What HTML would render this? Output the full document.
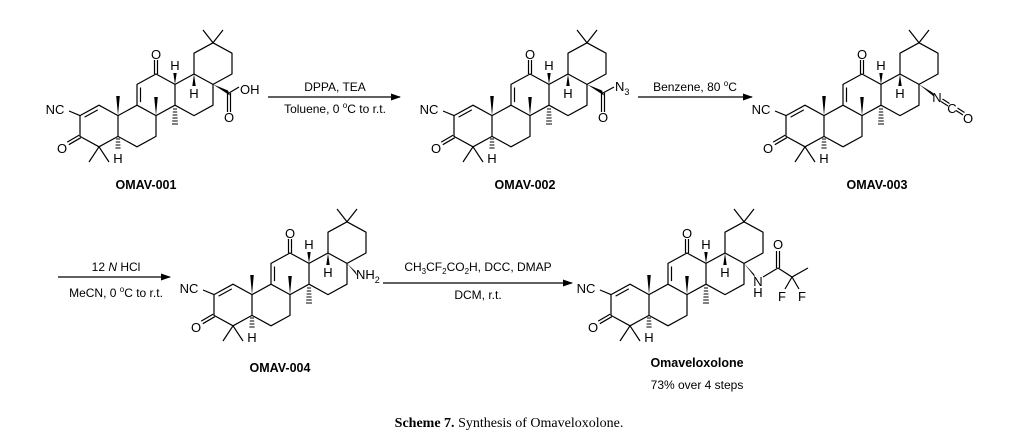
<!DOCTYPE html>
<html><head><meta charset="utf-8"><style>
html,body{margin:0;padding:0;background:#fff;}
svg{display:block;}
text{font-family:"Liberation Sans",sans-serif;fill:#000;}
.a{font-size:13px;text-anchor:middle;}
.r{font-size:12px;text-anchor:middle;}
.lb{font-size:12.5px;font-weight:bold;text-anchor:middle;}
</style></head><body>
<svg width="1024" height="440" viewBox="0 0 1024 440" xmlns="http://www.w3.org/2000/svg">
<defs>
<marker id="ar" markerWidth="10" markerHeight="8" refX="9" refY="4" orient="auto" markerUnits="userSpaceOnUse"><path d="M0,0.5 L10,4 L0,7.5 Z" fill="#000"/></marker>
<g id="sk" fill="none" stroke="#000" stroke-width="1.2" stroke-linejoin="round">
<path d="M0,-20.8 L19,-10.4 L19,10.4 L0,20.8 L-19,10.4 L-19,-10.4Z"/>
<path d="M19,-10.4 L38,-20.8 L57,-10.4 L57,10.4 L38,20.8 L19,10.4"/>
<path d="M38,-20.8 L38,-41.6 L57,-52 L76,-41.6 L76,-20.8 L57,-10.4"/>
<path d="M76,-41.6 L95,-52 L114,-41.6 L114,-20.8 L95,-10.4 L76,-20.8"/>
<path d="M95,-52 L95,-72.8 L114,-83.2 L133,-72.8 L133,-52 L114,-41.6"/>
<path d="M-14.4,-8.9 L-1.2,-16.1"/>
<path d="M41.5,-38.5 L41.5,-23.9"/>
<path d="M55.5,-52 L55.5,-66 M58.5,-52 L58.5,-66"/>
<path d="M-19.8,9.1 L-31.8,16.1 M-18.2,11.7 L-30.2,18.7"/>
<path d="M-19,-10.4 L-30,-15"/>
<path d="M0,20.8 L-10,36 M0,20.8 L10,36"/>
<path d="M114,-83.2 L104,-96 M114,-83.2 L124,-96"/>
<path d="M17,13 L21,13 M16.8,16 L21.2,16 M16.6,19 L21.4,19 M16.4,22 L21.6,22" stroke-width="1"/>
<path d="M74,-17 L78,-17 M73.8,-14 L78.2,-14 M73.6,-11 L78.4,-11 M73.4,-8 L78.6,-8 M73.2,-5 L78.8,-5 M73,-2 L79,-2" stroke-width="1"/>
</g>
<g id="wd" fill="#000" stroke="none">
<polygon points="19,-10.4 17.2,-30 20.8,-30"/>
<polygon points="57,-10.4 55.2,-29 58.8,-29"/>
<polygon points="76,-41.6 74.3,-53 77.7,-53"/>
<polygon points="95,-52 93.3,-40 96.7,-40"/>
</g>
</defs>

<!-- Molecule 1 -->
<g transform="translate(99,126)">
<use href="#sk"/><use href="#wd"/>
<text class="a" x="-44" y="-12">NC</text>
<text class="a" x="-37" y="27">O</text>
<text class="a" x="19" y="37">H</text>
<text class="a" x="57" y="-67">O</text>
<text class="a" x="76" y="-56">H</text>
<text class="a" x="95" y="-28">H</text>
<polygon points="114,-41.6 129,-35.5 131,-30.5" fill="#000"/>
<path d="M130,-33 L140,-39 M128.5,-33 L128.5,-14 M131.5,-33 L131.5,-14" stroke="#000" stroke-width="1.2" fill="none"/>
<text class="a" x="130" y="-4">O</text>
<text x="141" y="-32" font-size="13">OH</text>
</g>

<!-- Arrow 1 -->
<line x1="268" y1="97" x2="400" y2="97" stroke="#000" stroke-width="1.2" marker-end="url(#ar)"/>
<text class="r" x="335" y="91">DPPA, TEA</text>
<text class="r" x="335" y="113">Toluene, 0 <tspan font-size="8" dy="-5">o</tspan><tspan dy="5">C to r.t.</tspan></text>

<!-- Molecule 2 -->
<g transform="translate(473,126)">
<use href="#sk"/><use href="#wd"/>
<text class="a" x="-44" y="-12">NC</text>
<text class="a" x="-37" y="27">O</text>
<text class="a" x="19" y="37">H</text>
<text class="a" x="57" y="-67">O</text>
<text class="a" x="76" y="-56">H</text>
<text class="a" x="95" y="-28">H</text>
<polygon points="114,-41.6 129,-35.5 131,-30.5" fill="#000"/>
<path d="M130,-33 L141,-39 M128.5,-33 L128.5,-14 M131.5,-33 L131.5,-14" stroke="#000" stroke-width="1.2" fill="none"/>
<text class="a" x="130" y="-4">O</text>
<text x="142" y="-35" font-size="13">N<tspan font-size="9" dy="4">3</tspan></text>
</g>

<!-- Arrow 2 -->
<line x1="638" y1="97" x2="752" y2="97" stroke="#000" stroke-width="1.2" marker-end="url(#ar)"/>
<text class="r" x="695" y="91">Benzene, 80 <tspan font-size="8" dy="-5">o</tspan><tspan dy="5">C</tspan></text>

<!-- Molecule 3 -->
<g transform="translate(805,126)">
<use href="#sk"/><use href="#wd"/>
<text class="a" x="-44" y="-12">NC</text>
<text class="a" x="-37" y="27">O</text>
<text class="a" x="19" y="37">H</text>
<text class="a" x="57" y="-67">O</text>
<text class="a" x="76" y="-56">H</text>
<text class="a" x="95" y="-28">H</text>
<polygon points="114,-41.6 127.5,-33.5 129.5,-29" fill="#000"/>
<text class="a" x="132" y="-24">N</text>
<path d="M136,-24.5 L143,-20 M137.5,-27 L144.5,-22.5 M151,-15.5 L158,-11 M152.5,-18 L159.5,-13.5" stroke="#000" stroke-width="1.1" fill="none"/>
<text class="a" x="147" y="-13">C</text>
<text class="a" x="163" y="-3">O</text>
</g>

<text class="lb" x="146" y="189">OMAV-001</text>
<text class="lb" x="525" y="189">OMAV-002</text>
<text class="lb" x="877" y="189">OMAV-003</text>

<!-- Arrow 3 -->
<line x1="58" y1="277" x2="170" y2="277" stroke="#000" stroke-width="1.2" marker-end="url(#ar)"/>
<text class="r" x="116" y="271">12 <tspan font-style="italic">N</tspan> HCl</text>
<text class="r" x="116" y="297">MeCN, 0 <tspan font-size="8" dy="-5">o</tspan><tspan dy="5">C to r.t.</tspan></text>

<!-- Molecule 4 -->
<g transform="translate(233,305)">
<use href="#sk"/><use href="#wd"/>
<text class="a" x="-44" y="-12">NC</text>
<text class="a" x="-37" y="27">O</text>
<text class="a" x="19" y="37">H</text>
<text class="a" x="57" y="-67">O</text>
<text class="a" x="76" y="-56">H</text>
<text class="a" x="95" y="-28">H</text>
<polygon points="114,-41.6 122.5,-33.5 124.5,-29" fill="#000"/>
<text x="123" y="-26" font-size="13">NH<tspan font-size="9" dy="4">2</tspan></text>
</g>
<text class="lb" x="280" y="372">OMAV-004</text>

<!-- Arrow 4 -->
<line x1="383" y1="283" x2="572" y2="283" stroke="#000" stroke-width="1.2" marker-end="url(#ar)"/>
<text class="r" x="478" y="271">CH<tspan font-size="8" dy="3">3</tspan><tspan dy="-3">CF</tspan><tspan font-size="8" dy="3">2</tspan><tspan dy="-3">CO</tspan><tspan font-size="8" dy="3">2</tspan><tspan dy="-3">H, DCC, DMAP</tspan></text>
<text class="r" x="478" y="299">DCM, r.t.</text>

<!-- Molecule 5 -->
<g transform="translate(630,305)">
<use href="#sk"/><use href="#wd"/>
<text class="a" x="-44" y="-12">NC</text>
<text class="a" x="-37" y="27">O</text>
<text class="a" x="19" y="37">H</text>
<text class="a" x="57" y="-67">O</text>
<text class="a" x="76" y="-56">H</text>
<text class="a" x="95" y="-28">H</text>
<polygon points="114,-41.6 124,-31 125.5,-27" fill="#000"/>
<text class="a" x="128" y="-19">N</text>
<text class="a" x="128" y="-8">H</text>
<path d="M133,-28 L148,-37 M146.5,-37 L146.5,-54 M149.5,-37 L149.5,-54 M148,-37 L162,-28 L178,-37 M162,-28 L155,-16 M162,-28 L169,-16" stroke="#000" stroke-width="1.2" fill="none"/>
<text class="a" x="148" y="-56">O</text>
<text class="a" x="152" y="-4">F</text>
<text class="a" x="172" y="-4">F</text>
</g>
<text class="lb" x="697" y="367">Omaveloxolone</text>
<text class="r" x="697" y="389">73% over 4 steps</text>

<text x="509" y="427" text-anchor="middle" font-size="14" style="font-family:'Liberation Serif',serif"><tspan font-weight="bold">Scheme 7.</tspan>  Synthesis of Omaveloxolone.</text>
</svg>
</body></html>
